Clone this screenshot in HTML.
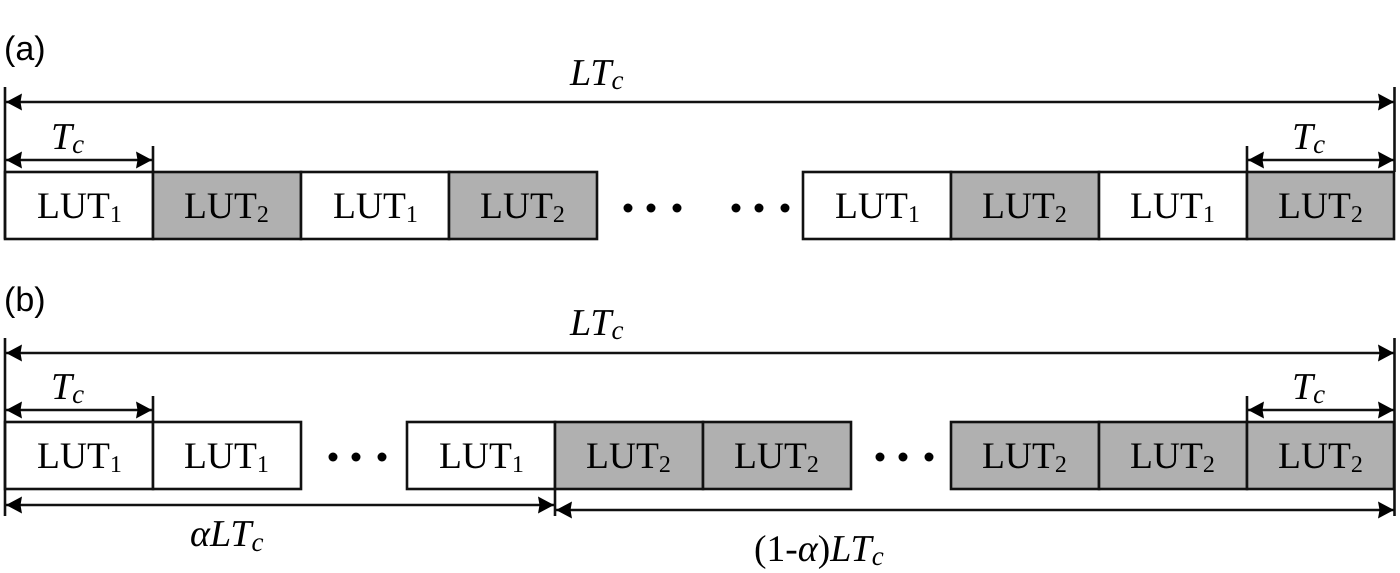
<!DOCTYPE html>
<html><head><meta charset="utf-8"><style>
html,body{margin:0;padding:0;background:#fff}
svg{display:block}
text{font-family:"Liberation Serif",serif;fill:#000;text-rendering:geometricPrecision}
.l{font-size:37.5px}
.s{font-size:24px}
.i{font-style:italic;font-size:38px}
.ic{font-style:italic;font-size:27px}
.h{font-family:"Liberation Sans",sans-serif;font-size:34px}
.w{fill:#fff;stroke:#111;stroke-width:2.6}
.g{fill:#b0b0b0;stroke:#111;stroke-width:2.6}
.k{stroke:#111;stroke-width:2.6;fill:none}
.a{fill:#000}
</style></head><body>
<svg width="1400" height="573" viewBox="0 0 1400 573" xmlns="http://www.w3.org/2000/svg">
<defs>
<path id="ar" class="a" d="M0 0L16 -8.500L14.500 0L16 8.500Z"/>
<g id="dots"><circle cx="0" cy="0" r="4.5" class="a"/><circle cx="23" cy="0" r="4.5" class="a"/><circle cx="49" cy="0" r="4.5" class="a"/></g>
</defs>

<text class="h" x="4" y="60">(a)</text>
<text class="h" x="4" y="311">(b)</text>

<!-- row a boxes -->
<rect class="w" x="5" y="172" width="148" height="67"/>
<rect class="g" x="153" y="172" width="148" height="67"/>
<rect class="w" x="301" y="172" width="148" height="67"/>
<rect class="g" x="449" y="172" width="148" height="67"/>
<rect class="w" x="803" y="172" width="148" height="67"/>
<rect class="g" x="951" y="172" width="148" height="67"/>
<rect class="w" x="1099" y="172" width="148" height="67"/>
<rect class="g" x="1247" y="172" width="147" height="67"/>

<!-- row b boxes -->
<rect class="w" x="5" y="422" width="148" height="67"/>
<rect class="w" x="153" y="422" width="148" height="67"/>
<rect class="w" x="407" y="422" width="148" height="67"/>
<rect class="g" x="555" y="422" width="148" height="67"/>
<rect class="g" x="703" y="422" width="148" height="67"/>
<rect class="g" x="951" y="422" width="148" height="67"/>
<rect class="g" x="1099" y="422" width="148" height="67"/>
<rect class="g" x="1247" y="422" width="147" height="67"/>

<!-- dots -->
<use href="#dots" x="628" y="208"/>
<use href="#dots" x="736" y="208"/>
<use href="#dots" x="333" y="457"/>
<use href="#dots" x="880" y="457"/>

<!-- row a dimension lines -->
<path class="k" d="M5 87V239M1394.500 87V172M153 146V172M1247 146V172M5 102H1394M5 160H153M1247 160H1394"/>
<use href="#ar" x="6" y="102"/>
<use href="#ar" transform="translate(1394,102) rotate(180)"/>
<use href="#ar" x="6" y="160"/>
<use href="#ar" transform="translate(152,160) rotate(180)"/>
<use href="#ar" x="1248" y="160"/>
<use href="#ar" transform="translate(1394,160) rotate(180)"/>

<!-- row b dimension lines -->
<path class="k" d="M5 338V516M1394.500 338V516M153 396V422M1247 396V422M555 489V516M5 353H1394M5 410H153M1247 410H1394M5 505H555M555 510H1394"/>
<use href="#ar" x="6" y="353"/>
<use href="#ar" transform="translate(1394,353) rotate(180)"/>
<use href="#ar" x="6" y="410"/>
<use href="#ar" transform="translate(152,410) rotate(180)"/>
<use href="#ar" x="1248" y="410"/>
<use href="#ar" transform="translate(1394,410) rotate(180)"/>
<use href="#ar" x="6" y="505"/>
<use href="#ar" transform="translate(554,505) rotate(180)"/>
<use href="#ar" x="556" y="510"/>
<use href="#ar" transform="translate(1394,510) rotate(180)"/>

<!-- row a labels -->
<text x="37" y="218"><tspan class="l">LUT</tspan><tspan class="s" dy="4">1</tspan></text>
<text x="184" y="218"><tspan class="l">LUT</tspan><tspan class="s" dy="4">2</tspan></text>
<text x="333" y="218"><tspan class="l">LUT</tspan><tspan class="s" dy="4">1</tspan></text>
<text x="480" y="218"><tspan class="l">LUT</tspan><tspan class="s" dy="4">2</tspan></text>
<text x="835" y="218"><tspan class="l">LUT</tspan><tspan class="s" dy="4">1</tspan></text>
<text x="982" y="218"><tspan class="l">LUT</tspan><tspan class="s" dy="4">2</tspan></text>
<text x="1130" y="218"><tspan class="l">LUT</tspan><tspan class="s" dy="4">1</tspan></text>
<text x="1278" y="218"><tspan class="l">LUT</tspan><tspan class="s" dy="4">2</tspan></text>

<!-- row b labels -->
<text x="37" y="468"><tspan class="l">LUT</tspan><tspan class="s" dy="4">1</tspan></text>
<text x="184" y="468"><tspan class="l">LUT</tspan><tspan class="s" dy="4">1</tspan></text>
<text x="439" y="468"><tspan class="l">LUT</tspan><tspan class="s" dy="4">1</tspan></text>
<text x="586" y="468"><tspan class="l">LUT</tspan><tspan class="s" dy="4">2</tspan></text>
<text x="734" y="468"><tspan class="l">LUT</tspan><tspan class="s" dy="4">2</tspan></text>
<text x="982" y="468"><tspan class="l">LUT</tspan><tspan class="s" dy="4">2</tspan></text>
<text x="1130" y="468"><tspan class="l">LUT</tspan><tspan class="s" dy="4">2</tspan></text>
<text x="1278" y="468"><tspan class="l">LUT</tspan><tspan class="s" dy="4">2</tspan></text>

<!-- italic labels -->
<text x="570" y="85"><tspan class="i">LT</tspan><tspan class="ic" dy="4">c</tspan></text>
<text x="570" y="335"><tspan class="i">LT</tspan><tspan class="ic" dy="4">c</tspan></text>
<text x="51" y="149"><tspan class="i">T</tspan><tspan class="ic" dy="4">c</tspan></text>
<text x="51" y="399"><tspan class="i">T</tspan><tspan class="ic" dy="4">c</tspan></text>
<text x="1292" y="149"><tspan class="i">T</tspan><tspan class="ic" dy="4">c</tspan></text>
<text x="1292" y="399"><tspan class="i">T</tspan><tspan class="ic" dy="4">c</tspan></text>
<text x="190" y="546"><tspan class="i">αLT</tspan><tspan class="ic" dy="5">c</tspan></text>
<text x="754" y="561"><tspan class="l">(1-</tspan><tspan class="i">α</tspan><tspan class="l">)</tspan><tspan class="i">LT</tspan><tspan class="ic" dy="4">c</tspan></text>
</svg>
</body></html>
